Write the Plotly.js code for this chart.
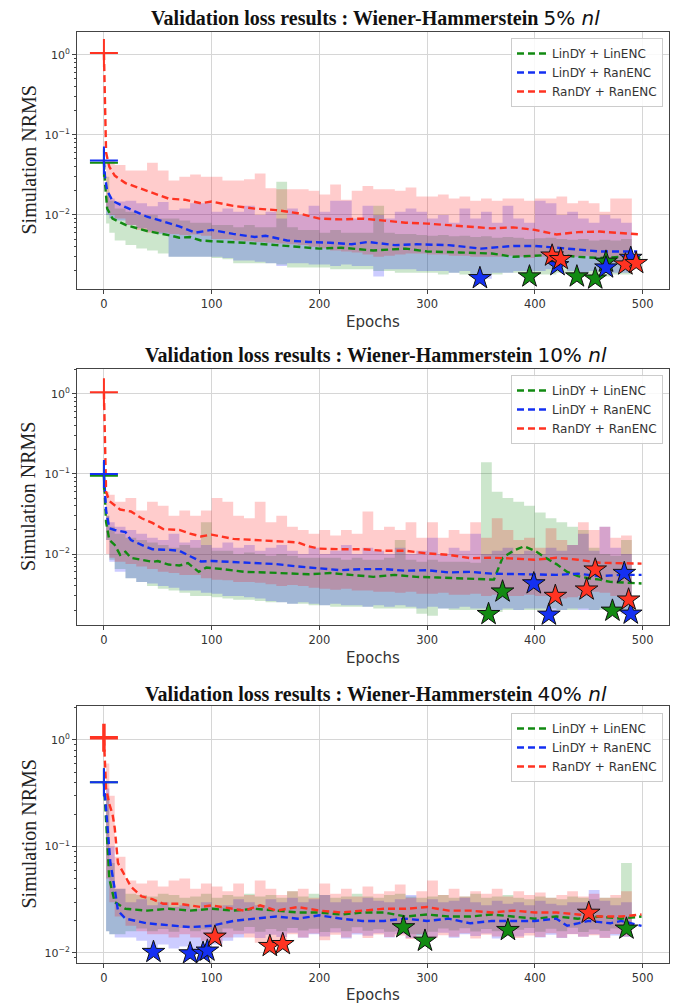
<!DOCTYPE html>
<html><head><meta charset="utf-8">
<script src="https://cdn.plot.ly/plotly-3.0.1.min.js"></script>
<style>body{margin:0;background:#fff}</style>
</head><body><div id="chart" style="width:681px;height:1005px"></div>
<script>
// ---------- DATA ----------
const seriesNames = ['LinDY + LinENC', 'LinDY + RanENC', 'RanDY + RanENC'];
const titlePct = ['5%', '10%', '40%'];
const xTicks = [0, 100, 200, 300, 400, 500];
const yTickVals = [0.01, 0.1, 1];
const yTickText = ['10<sup>\u22122</sup>', '10<sup>\u22121</sup>', '10<sup>0</sup>'];

// epochs at which the min/max bands change (step)
const bandX = [2,5,10,20,30,40,50,60,70,80, 90,100,110,120,130,140,150,160,170,180,
  190,200,210,220,230,240,250,260,270,280, 290,300,310,320,330,340,350,360,370,380,
  390,400,410,420,430,440,450,460,470,480, 490];

// ----- Panel 1 : 5% nl -----
const g1MeanX = [0,1,3,8,20,40,60,70,80,90,100,130,160,180,200,220,250,280,300,330,360,380,400,420,440,460,480,499];
const g1Mean  = [0.045,0.025,0.012,0.009,0.0075,0.0063,0.0056,0.0052,0.0053,0.0048,0.0047,0.0045,0.0042,0.004,0.0038,0.0039,0.0036,0.0038,0.0035,0.0034,0.0033,0.003,0.0031,0.0032,0.003,0.0029,0.003,0.0029];
const b1MeanX = [0,1,3,8,20,30,40,55,70,85,100,120,140,150,170,190,210,230,245,270,290,320,350,380,400,420,440,460,495];
const b1Mean  = [0.048,0.03,0.02,0.015,0.0125,0.011,0.0095,0.0083,0.0072,0.006,0.0065,0.0058,0.0053,0.0055,0.0048,0.0046,0.0045,0.0043,0.0046,0.0042,0.0043,0.0042,0.0038,0.0041,0.0041,0.0039,0.0037,0.0035,0.0035];
const r1MeanX = [0,2,5,10,20,35,45,60,75,90,100,120,140,160,180,200,220,240,260,280,300,320,340,360,380,400,420,440,460,480,499];
const r1Mean  = [1.05,0.06,0.04,0.031,0.025,0.021,0.019,0.016,0.0155,0.014,0.0147,0.013,0.012,0.0115,0.0105,0.009,0.0088,0.009,0.0085,0.008,0.0078,0.0075,0.0072,0.0068,0.007,0.0065,0.0057,0.0061,0.0062,0.0059,0.0057];
const g1Lo = [0.0078,0.006,0.0048,0.0042,0.0038,0.0036,0.0033,0.003,0.003,0.003,
  0.003,0.0029,0.0028,0.0025,0.0025,0.0025,0.0025,0.0024,0.0022,0.0022,
  0.0022,0.0022,0.0021,0.0021,0.0021,0.0021,0.002,0.002,0.0019,0.0019,
  0.0019,0.0019,0.0018,0.0019,0.0018,0.0018,0.0018,0.0018,0.0019,0.0019,
  0.0017,0.0018,0.0018,0.0019,0.0018,0.0017,0.0016,0.0017,0.0018,0.0018,0.0018];
const g1Hi = [0.03,0.015,0.012,0.011,0.01,0.01,0.009,0.009,0.0085,0.008,
  0.008,0.0075,0.0075,0.007,0.0075,0.007,0.007,0.026,0.007,0.0065,
  0.0065,0.006,0.0065,0.006,0.006,0.006,0.013,0.006,0.0058,0.0058,
  0.0056,0.0055,0.0056,0.0054,0.0055,0.0053,0.0054,0.0052,0.0053,0.0052,
  0.005,0.0051,0.0052,0.005,0.0049,0.005,0.0048,0.0049,0.0048,0.005,0.005];
const b1Lo = [0.01,0.009,0.0085,0.0075,0.0068,0.0062,0.0058,0.003,0.003,0.003,
  0.003,0.003,0.0029,0.0027,0.0027,0.0026,0.0025,0.0023,0.0025,0.0025,
  0.0024,0.0024,0.0023,0.0024,0.0023,0.0023,0.0017,0.0021,0.0021,0.0021,
  0.002,0.002,0.002,0.0019,0.002,0.0018,0.0016,0.0019,0.0019,0.002,
  0.002,0.002,0.0021,0.0022,0.002,0.0019,0.002,0.0021,0.0019,0.0019,0.0019];
const b1Hi = [0.017,0.016,0.0147,0.015,0.014,0.0128,0.0145,0.0115,0.012,0.014,
  0.014,0.011,0.012,0.011,0.013,0.01,0.011,0.009,0.012,0.01,
  0.013,0.011,0.015,0.015,0.009,0.013,0.01,0.009,0.011,0.012,
  0.011,0.009,0.01,0.008,0.012,0.009,0.011,0.008,0.013,0.009,
  0.008,0.015,0.014,0.01,0.011,0.009,0.008,0.01,0.009,0.008,0.007];
const r1Lo = [0.012,0.01,0.009,0.0075,0.0065,0.006,0.006,0.0058,0.0056,0.0057,
  0.0055,0.005,0.005,0.0048,0.0047,0.0046,0.0045,0.0044,0.0043,0.0042,
  0.004,0.0038,0.0036,0.0035,0.0034,0.0032,0.003,0.0031,0.0032,0.0033,
  0.0033,0.0032,0.0032,0.0031,0.0031,0.003,0.003,0.003,0.0031,0.003,
  0.0029,0.003,0.0028,0.0028,0.003,0.0031,0.003,0.0029,0.0027,0.0024,0.0024];
const r1Hi = [0.048,0.048,0.042,0.036,0.036,0.045,0.036,0.027,0.03,0.032,
  0.03,0.03,0.027,0.027,0.028,0.033,0.0215,0.021,0.021,0.021,
  0.02,0.018,0.024,0.0155,0.02,0.023,0.021,0.021,0.02,0.022,
  0.017,0.017,0.018,0.016,0.017,0.015,0.016,0.015,0.016,0.016,
  0.015,0.016,0.016,0.017,0.014,0.015,0.014,0.011,0.016,0.016,0.016];
const g1StarX = [395,439,456,466], g1StarY = [0.0017,0.0017,0.0016,0.0026];
const b1StarX = [349,421,466,489], b1StarY = [0.00162,0.00235,0.0022,0.0029];
const r1StarX = [416,424,484,494], r1StarY = [0.0031,0.0028,0.0024,0.0025];
const start1 = [0.045, 0.048, 1.05];

// ----- Panel 2 : 10% nl -----
const g2MeanX = [0,2,5,10,15,20,25,35,45,50,60,70,78,88,95,110,130,150,170,190,210,230,250,270,290,310,330,350,362,370,380,390,400,410,420,430,440,450,460,470,480,499];
const g2Mean  = [0.095,0.025,0.015,0.013,0.0098,0.0107,0.009,0.0085,0.008,0.0082,0.0074,0.0072,0.0077,0.006,0.0068,0.0065,0.006,0.0059,0.0058,0.0056,0.0058,0.0055,0.0052,0.0055,0.0052,0.0051,0.005,0.0049,0.0048,0.009,0.011,0.0125,0.011,0.009,0.0075,0.006,0.0053,0.005,0.0048,0.0045,0.0044,0.0043];
const b2MeanX = [0,2,5,10,20,25,35,45,60,70,80,90,100,120,140,160,180,200,220,240,260,280,300,320,340,360,380,400,420,440,460,480,499];
const b2Mean  = [0.1,0.035,0.021,0.02,0.0188,0.015,0.013,0.0115,0.0113,0.011,0.0094,0.0081,0.0082,0.008,0.0077,0.0075,0.007,0.0066,0.0063,0.0065,0.0065,0.0062,0.0063,0.0059,0.006,0.0057,0.0056,0.0055,0.0055,0.0057,0.0053,0.0055,0.0055];
const r2MeanX = [0,2,5,15,25,35,45,55,70,80,90,100,120,140,150,160,180,190,200,220,240,260,280,300,320,340,360,380,400,420,440,460,480,499];
const r2Mean  = [1.05,0.06,0.046,0.036,0.034,0.028,0.0245,0.0205,0.02,0.018,0.0166,0.0175,0.0155,0.015,0.0147,0.0145,0.014,0.0125,0.0117,0.0115,0.0115,0.011,0.011,0.0102,0.0098,0.0089,0.009,0.0088,0.0085,0.009,0.0085,0.0078,0.0077,0.0076];
const g2Lo = [0.015,0.0085,0.0065,0.005,0.0045,0.004,0.0037,0.0035,0.0033,0.003,
  0.003,0.0029,0.0028,0.0027,0.0027,0.0026,0.0025,0.0025,0.0024,0.0024,
  0.0023,0.0023,0.0022,0.0022,0.0022,0.0022,0.0021,0.0021,0.0021,0.0021,
  0.0018,0.0017,0.0021,0.002,0.002,0.002,0.0017,0.0019,0.002,0.002,
  0.002,0.002,0.0021,0.002,0.002,0.0021,0.002,0.002,0.0019,0.002,0.0021];
const g2Hi = [0.03,0.022,0.018,0.016,0.015,0.014,0.013,0.012,0.013,0.012,
  0.025,0.011,0.011,0.01,0.0105,0.01,0.0095,0.01,0.0095,0.009,
  0.009,0.009,0.009,0.0085,0.009,0.0085,0.0085,0.009,0.015,0.0085,
  0.008,0.0085,0.008,0.008,0.008,0.0078,0.14,0.06,0.05,0.045,
  0.04,0.033,0.028,0.025,0.022,0.02,0.012,0.01,0.0095,0.015,0.015];
const b2Lo = [0.015,0.008,0.006,0.005,0.0045,0.0043,0.004,0.0038,0.0035,0.0035,
  0.0033,0.0032,0.003,0.003,0.0029,0.0028,0.0026,0.0025,0.0024,0.0025,
  0.0024,0.0023,0.0024,0.0023,0.0023,0.0022,0.0023,0.0022,0.0023,0.0022,
  0.0021,0.0022,0.0021,0.0021,0.0022,0.0021,0.0021,0.002,0.0021,0.002,
  0.0021,0.0021,0.0017,0.002,0.0021,0.002,0.002,0.0021,0.002,0.0018,0.0018];
const b2Hi = [0.03,0.025,0.022,0.02,0.018,0.016,0.015,0.018,0.014,0.015,
  0.013,0.012,0.014,0.012,0.013,0.011,0.012,0.013,0.011,0.01,
  0.012,0.01,0.011,0.013,0.01,0.012,0.011,0.01,0.012,0.01,
  0.011,0.016,0.01,0.012,0.011,0.018,0.01,0.011,0.012,0.01,
  0.011,0.01,0.012,0.011,0.013,0.018,0.011,0.022,0.012,0.01,0.011];
const r2Lo = [0.01,0.009,0.008,0.0075,0.007,0.0065,0.006,0.0058,0.0055,0.0055,
  0.005,0.0048,0.0047,0.0045,0.0045,0.0044,0.0042,0.004,0.0041,0.004,
  0.0038,0.0037,0.0036,0.0037,0.0035,0.0035,0.0034,0.0034,0.0033,0.0034,
  0.0032,0.0032,0.0033,0.0031,0.0031,0.0032,0.003,0.0031,0.003,0.003,
  0.0031,0.003,0.003,0.0028,0.0029,0.003,0.0034,0.0033,0.003,0.0026,0.0026];
const r2Hi = [0.06,0.055,0.045,0.05,0.035,0.045,0.04,0.03,0.035,0.03,
  0.035,0.05,0.045,0.03,0.028,0.045,0.025,0.03,0.022,0.02,
  0.018,0.02,0.017,0.02,0.018,0.034,0.02,0.022,0.02,0.025,
  0.016,0.025,0.016,0.02,0.018,0.025,0.016,0.028,0.02,0.015,
  0.016,0.012,0.021,0.015,0.013,0.025,0.02,0.022,0.016,0.017,0.016];
const g2StarX = [357,370,472], g2StarY = [0.00178,0.0034,0.00196];
const b2StarX = [399,413,483,489], b2StarY = [0.0043,0.00175,0.0058,0.0018];
const r2StarX = [419,448,456,487], r2StarY = [0.003,0.0036,0.0064,0.0027];
const start2 = [0.095, 0.1, 1.05];

// ----- Panel 3 : 40% nl -----
const g3MeanX = [0,3,5,10,15,20,40,60,80,100,120,140,160,180,200,220,240,260,280,300,320,340,360,380,400,420,440,460,480,499];
const g3Mean  = [0.4,0.1,0.05,0.03,0.028,0.026,0.025,0.026,0.025,0.026,0.025,0.026,0.025,0.024,0.024,0.023,0.024,0.024,0.022,0.023,0.022,0.022,0.023,0.022,0.021,0.022,0.021,0.022,0.021,0.022];
const b3MeanX = [0,3,6,10,13,20,30,40,50,70,80,100,120,140,160,180,200,220,240,260,280,300,320,340,360,380,400,420,430,440,450,470,480,499];
const b3Mean  = [0.4,0.15,0.07,0.04,0.025,0.021,0.02,0.019,0.0186,0.018,0.0175,0.018,0.02,0.021,0.022,0.021,0.0226,0.021,0.02,0.02,0.021,0.02,0.021,0.019,0.02,0.02,0.02,0.021,0.018,0.019,0.02,0.019,0.02,0.018];
const r3MeanX = [0,2,5,8,10,13,20,25,35,45,55,70,90,100,120,130,145,160,180,200,220,240,260,280,300,320,340,360,380,400,420,440,460,480,499];
const r3Mean  = [1.03,0.35,0.25,0.2,0.15,0.07,0.052,0.042,0.034,0.032,0.029,0.029,0.027,0.028,0.026,0.025,0.028,0.025,0.027,0.025,0.024,0.025,0.026,0.026,0.027,0.025,0.025,0.024,0.025,0.024,0.024,0.023,0.022,0.022,0.023];
const g3Lo = [0.016,0.015,0.015,0.016,0.017,0.016,0.0168,0.0158,0.0172,0.016,
  0.0166,0.0155,0.017,0.0162,0.0175,0.0158,0.0168,0.016,0.0172,0.0163,
  0.0169,0.0157,0.0171,0.016,0.0174,0.0162,0.0167,0.0158,0.016,0.015,
  0.013,0.0158,0.017,0.0163,0.0171,0.0159,0.0168,0.016,0.0162,0.0165,
  0.0172,0.0158,0.0169,0.016,0.0173,0.0157,0.0166,0.0161,0.017,0.0165,0.016];
const g3Hi = [0.3,0.07,0.04,0.036,0.035,0.034,0.036,0.035,0.033,0.034,
  0.036,0.033,0.035,0.034,0.036,0.034,0.035,0.033,0.038,0.034,
  0.036,0.035,0.033,0.034,0.036,0.034,0.033,0.035,0.036,0.034,
  0.033,0.034,0.035,0.033,0.034,0.036,0.033,0.034,0.035,0.033,
  0.032,0.034,0.033,0.032,0.034,0.033,0.032,0.033,0.033,0.07,0.033];
const b3Lo = [0.016,0.015,0.014,0.014,0.013,0.0105,0.012,0.011,0.0115,0.0102,
  0.0102,0.012,0.013,0.014,0.0152,0.0138,0.0148,0.0141,0.0155,0.0139,
  0.015,0.0143,0.0156,0.0137,0.0149,0.0145,0.0153,0.014,0.0151,0.0138,
  0.0147,0.0142,0.0155,0.0139,0.015,0.0144,0.0152,0.0137,0.0149,0.0143,
  0.0154,0.014,0.0148,0.0138,0.0151,0.0142,0.015,0.0139,0.0146,0.0141,0.014];
const b3Hi = [0.35,0.1,0.04,0.03,0.032,0.028,0.03,0.027,0.028,0.026,
  0.03,0.027,0.028,0.032,0.03,0.028,0.032,0.03,0.033,0.03,
  0.032,0.035,0.03,0.032,0.03,0.033,0.031,0.03,0.032,0.035,
  0.03,0.032,0.03,0.031,0.033,0.03,0.028,0.031,0.029,0.03,
  0.028,0.031,0.029,0.028,0.03,0.03,0.039,0.031,0.028,0.03,0.029];
const r3Lo = [0.05,0.03,0.022,0.018,0.016,0.015,0.015,0.014,0.015,0.014,
  0.013,0.0125,0.014,0.015,0.014,0.0125,0.0115,0.012,0.015,0.014,
  0.0152,0.0132,0.0148,0.014,0.0153,0.0138,0.0149,0.0141,0.0146,0.0135,
  0.0151,0.0139,0.0147,0.0142,0.0153,0.0137,0.0148,0.0143,0.0152,0.0138,
  0.0146,0.0141,0.0153,0.0139,0.015,0.0142,0.0147,0.0138,0.0151,0.0143,0.014];
const r3Hi = [0.6,0.3,0.08,0.048,0.045,0.048,0.042,0.048,0.05,0.04,
  0.045,0.042,0.038,0.045,0.035,0.048,0.04,0.035,0.038,0.04,
  0.033,0.045,0.036,0.04,0.034,0.042,0.036,0.038,0.044,0.033,
  0.038,0.048,0.035,0.04,0.034,0.038,0.036,0.04,0.034,0.038,
  0.035,0.037,0.033,0.035,0.038,0.034,0.036,0.033,0.035,0.038,0.036];
const g3StarX = [278,298,375,485], g3StarY = [0.0174,0.013,0.0164,0.0169];
const b3StarX = [46,80,92,96], b3StarY = [0.0102,0.0099,0.010,0.0105];
const r3StarX = [103,154,166,450], r3StarY = [0.0142,0.0116,0.0121,0.0238];
const start3 = [0.4, 0.4, 1.05];

// ---------- STYLE / ASSEMBLY ----------
const COL  = ['#128a12', '#1430f2', '#ff3322'];
const FILL = ['rgba(0,128,0,0.2)', 'rgba(0,0,255,0.2)', 'rgba(255,0,0,0.2)'];

const panels = [
  {meanX:[g1MeanX,b1MeanX,r1MeanX], mean:[g1Mean,b1Mean,r1Mean], lo:[g1Lo,b1Lo,r1Lo], hi:[g1Hi,b1Hi,r1Hi],
   sx:[g1StarX,b1StarX,r1StarX], sy:[g1StarY,b1StarY,r1StarY], start:start1,
   px:[32,289], yr:[-2.925,0.285], titleY:18, epochY:322, legTop:38},
  {meanX:[g2MeanX,b2MeanX,r2MeanX], mean:[g2Mean,b2Mean,r2Mean], lo:[g2Lo,b2Lo,r2Lo], hi:[g2Hi,b2Hi,r2Hi],
   sx:[g2StarX,b2StarX,r2StarX], sy:[g2StarY,b2StarY,r2StarY], start:start2,
   px:[369,625], yr:[-2.885,0.31], titleY:355, epochY:658, legTop:375},
  {meanX:[g3MeanX,b3MeanX,r3MeanX], mean:[g3Mean,b3Mean,r3Mean], lo:[g3Lo,b3Lo,r3Lo], hi:[g3Hi,b3Hi,r3Hi],
   sx:[g3StarX,b3StarX,r3StarX], sy:[g3StarY,b3StarY,r3StarY], start:start3,
   px:[706,963], yr:[-2.094,0.319], titleY:694, epochY:995, legTop:713}
];

const H = 1005, L = 77, R = 12, W = 681;
const pw = W - L - R;
const traces = [];
const layout = {
  width: W, height: H, margin: {l:L, r:R, t:0, b:0},
  paper_bgcolor:'#ffffff', plot_bgcolor:'#ffffff',
  font:{family:'DejaVu Sans', size:11, color:'#333333'},
  showlegend:true, annotations:[]
};
const minorVals = [];
[0.001,0.01,0.1,1].forEach(d=>{ for(let m=2;m<=9;m++) minorVals.push(d*m); });

panels.forEach((p,i)=>{
  const n = i===0 ? '' : String(i+1);
  const xa = 'x'+n, ya = 'y'+n, lg = 'legend'+n;
  for (let k=0;k<3;k++){
    traces.push({x:bandX, y:p.lo[k], xaxis:xa, yaxis:ya, mode:'lines', line:{width:0, shape:'hv'},
      showlegend:false, hoverinfo:'skip', legend:lg});
    traces.push({x:bandX, y:p.hi[k], xaxis:xa, yaxis:ya, mode:'lines', line:{width:0, shape:'hv'},
      fill:'tonexty', fillcolor:FILL[k], showlegend:false, hoverinfo:'skip', legend:lg});
  }
  for (let k=0;k<3;k++){
    traces.push({x:p.meanX[k], y:p.mean[k], xaxis:xa, yaxis:ya, mode:'lines', name:seriesNames[k],
      legend:lg, line:{color:COL[k], width:2.4, dash:'7px,4px'}});
  }
  for (let k=0;k<3;k++){
    traces.push({x:[0], y:[p.start[k]], xaxis:xa, yaxis:ya, mode:'markers', showlegend:false, legend:lg,
      marker:{symbol:'cross-thin', size:20, line:{color:COL[k], width:(i===2&&k===2)?3.5:2}}});
  }
  for (let k=0;k<3;k++){
    traces.push({x:p.sx[k], y:p.sy[k], xaxis:xa, yaxis:ya, mode:'markers', showlegend:false, legend:lg,
      marker:{symbol:'star', size:17, color:COL[k], line:{color:'#111', width:1}}});
  }
  const dom = [1 - p.px[1]/H, 1 - p.px[0]/H];
  layout['xaxis'+n] = {anchor:ya, domain:[0,1], range:[-25,524.5], tickvals:xTicks,
    showline:true, mirror:true, linecolor:'#444', linewidth:1, showgrid:true, gridcolor:'#d6d6d6',
    gridwidth:1, ticks:'outside', ticklen:4, tickcolor:'#444', zeroline:false,
    tickfont:{size:11.5, color:'#333'}};
  layout['yaxis'+n] = {anchor:xa, domain:dom, type:'log', range:p.yr, tickvals:yTickVals, ticktext:yTickText,
    showline:true, mirror:true, linecolor:'#444', linewidth:1, showgrid:true, gridcolor:'#d6d6d6',
    gridwidth:1, ticks:'outside', ticklen:4, tickcolor:'#444', zeroline:false,
    tickfont:{size:11, color:'#333'},
    minor:{tickvals:minorVals, ticks:'outside', ticklen:2, tickcolor:'#444', showgrid:false}};
  layout[lg] = {x:(663-L)/pw, y:1 - p.legTop/H, xanchor:'right', yanchor:'top', traceorder:'normal',
    bgcolor:'rgba(255,255,255,0.85)', bordercolor:'#cccccc', borderwidth:1,
    font:{family:'DejaVu Sans', size:12, color:'#333'}, tracegroupgap:0};
  layout.annotations.push({xref:'paper', yref:'paper', x:0.505, y:1 - p.titleY/H, xanchor:'center', yanchor:'middle',
    showarrow:false, font:{family:'Liberation Serif', size:20, color:'#111'},
    text:'<b>Validation loss results : Wiener-Hammerstein</b> <span style="font-family:DejaVu Sans">'+titlePct[i]+' <i>nl</i></span>'});
  layout.annotations.push({xref:'paper', yref:'paper', x:0.5, y:1 - p.epochY/H, xanchor:'center', yanchor:'middle',
    showarrow:false, font:{family:'DejaVu Sans', size:15, color:'#333'}, text:'Epochs'});
  layout.annotations.push({xref:'paper', yref:'paper', x:(28-L)/pw, y:1 - (p.px[0]+p.px[1])/2/H, xanchor:'center', yanchor:'middle',
    textangle:-90, showarrow:false, font:{family:'Liberation Serif', size:20, color:'#222'}, text:'Simulation NRMS'});
});

Plotly.newPlot('chart', traces, layout, {staticPlot:true, displayModeBar:false});
</script>
</body></html>
